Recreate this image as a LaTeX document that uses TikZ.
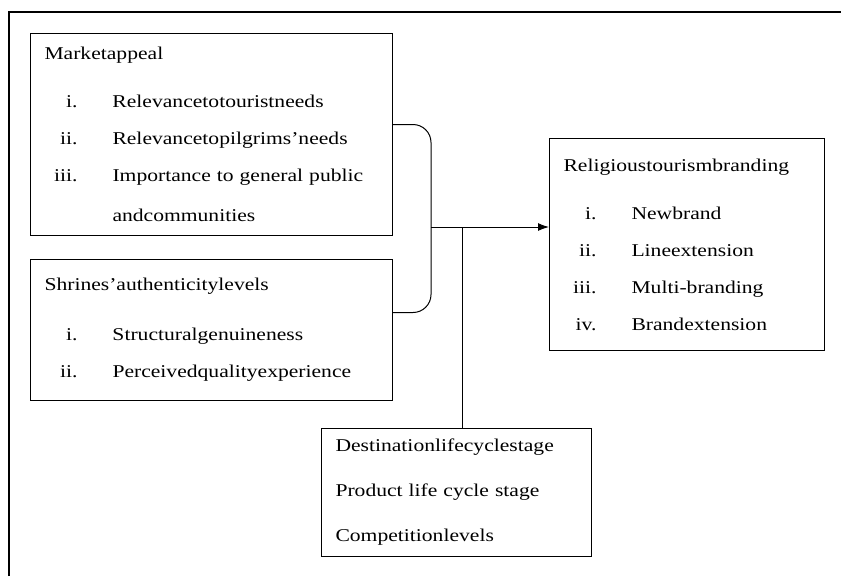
\documentclass[tikz,border=0pt]{standalone}
\usepackage{fontspec}
\setmainfont[FakeStretch=1.2]{Liberation Serif}
\usetikzlibrary{arrows.meta}
\newcommand{\itm}[2]{\makebox[33pt][r]{#1}\hspace{35pt}#2}

\begin{document}
\begin{tikzpicture}[x=1pt,y=-1pt,line width=1pt,
  font=\fontsize{18}{37}\selectfont,
  box/.style={draw,anchor=north west,inner xsep=14pt,inner ysep=0pt,align=left}]
\useasboundingbox (0,0) rectangle (841,576);
\draw[line width=1.3pt] (9,576) |- (841,12);

\node[box,text width=334pt,minimum height=202pt] (market) at (30,33) {%
  Marketappeal\\[11pt]
  \itm{i.}{Relevancetotouristneeds}\\
  \itm{ii.}{Relevancetopilgrims'needs}\\
  \itm{iii.}{Importance to general public}\\[3pt]
  \itm{}{andcommunities}};
\node[box,text width=334pt,minimum height=141pt] (shrine) at (30,259) {%
  Shrines'authenticitylevels\\[13pt]
  \itm{i.}{Structuralgenuineness}\\
  \itm{ii.}{Perceivedqualityexperience}};
\node[box,text width=247pt,minimum height=212pt] (brand) at (549,138) {%
  Religioustourismbranding\\[11pt]
  \itm{i.}{Newbrand}\\
  \itm{ii.}{Lineextension}\\
  \itm{iii.}{Multi-branding}\\
  \itm{iv.}{Brandextension}};
\node[box,text width=242pt,minimum height=128pt] (factors) at (321,428) {%
  Destinationlifecyclestage\\[8pt]
  Product life cycle stage\\[8pt]
  Competitionlevels};

\coordinate (join) at (431,227);
\coordinate (tee) at (462,227);
\draw[rounded corners=18pt] ([yshift=10pt]market.east) -| (join)
  |- ([yshift=17.5pt]shrine.east);
\draw[-{Latex[length=11pt,width=8pt]}] (join) -- (join -| brand.west);
\draw (tee) -- (tee |- factors.north);
\end{tikzpicture}
\end{document}
